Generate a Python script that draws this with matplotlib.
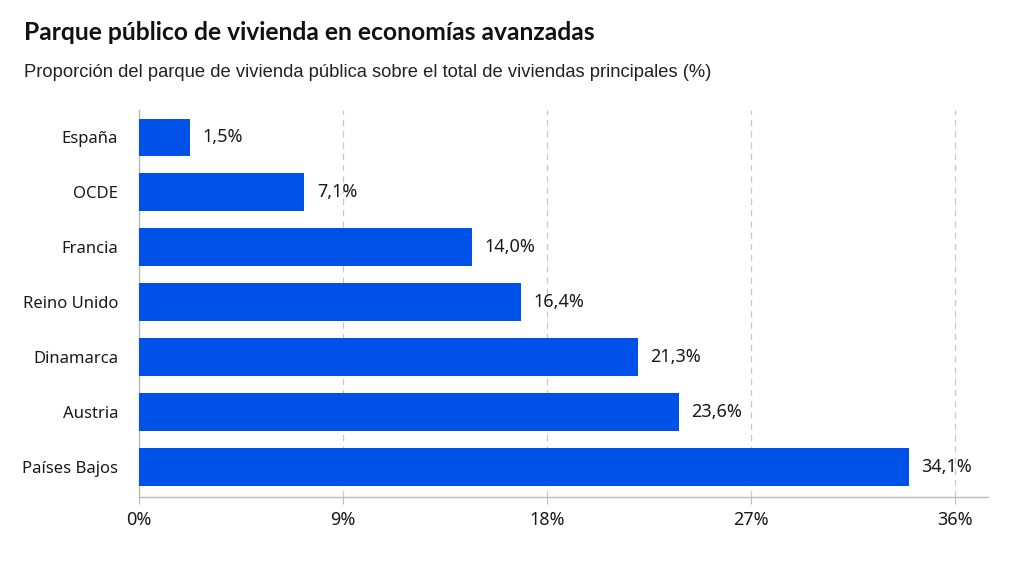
import matplotlib
matplotlib.use("Agg")
from matplotlib import pyplot as plt

# data
countries = ["España", "OCDE", "Francia", "Reino Unido", "Dinamarca", "Austria", "Países Bajos"]
bar_lengths = [2.25, 7.3, 14.7, 16.85, 22.0, 23.8, 33.95]
value_labels = ["1,5%", "7,1%", "14,0%", "16,4%", "21,3%", "23,6%", "34,1%"]
x_ticks = [0, 9, 18, 27, 36]
x_tick_labels = ["0%", "9%", "18%", "27%", "36%"]

BLUE = "#0051e8"
TEXT = "#1a1a1a"

fig = plt.figure(figsize=(10.24, 5.76), dpi=100)
fig.patch.set_facecolor("white")
ax = fig.add_axes([139 / 1024, 1 - 497 / 576, (988 - 139) / 1024, (497 - 110) / 576])

ypos = list(range(len(countries)))
ax.barh(ypos, bar_lengths, height=0.69, color=BLUE, zorder=3)

for y, w, lab in zip(ypos, bar_lengths, value_labels):
    ax.text(w + 0.55, y, lab, va="center", ha="left", fontsize=13,
            family="Noto Sans", color=TEXT, zorder=4)

ax.set_xlim(0, 37.45)
ax.set_ylim(6.545, -0.5)
ax.set_yticks(ypos)
ax.set_yticklabels(countries, family="Noto Sans", fontsize=12, color=TEXT)
ax.set_xticks(x_ticks)
ax.set_xticklabels(x_tick_labels, family="Noto Sans", fontsize=13, color=TEXT)
ax.tick_params(axis="y", length=0, pad=15)
ax.tick_params(axis="x", length=5, color="#bbbbbb", pad=5)

ax.grid(axis="x", linestyle=(0, (5, 4)), color="#c8c8c8", linewidth=0.9, zorder=0)
ax.grid(axis="y", visible=False)
for side in ["top", "right"]:
    ax.spines[side].set_visible(False)
ax.spines["left"].set_color("#bbbbbb")
ax.spines["bottom"].set_color("#bbbbbb")
ax.spines["left"].set_linewidth(1.0)
ax.spines["bottom"].set_linewidth(1.0)

fig.text(24 / 1024, 1 - 40 / 576, "Parque público de vivienda en economías avanzadas",
         family="Lato", weight="bold", fontsize=17.7, color="#111111", va="baseline")
fig.text(24 / 1024, 1 - 77 / 576,
         "Proporción del parque de vivienda pública sobre el total de viviendas principales (%)",
         family="Liberation Sans", fontsize=13.2, color="#222222", va="baseline")

fig.savefig("out.png", dpi=100)
